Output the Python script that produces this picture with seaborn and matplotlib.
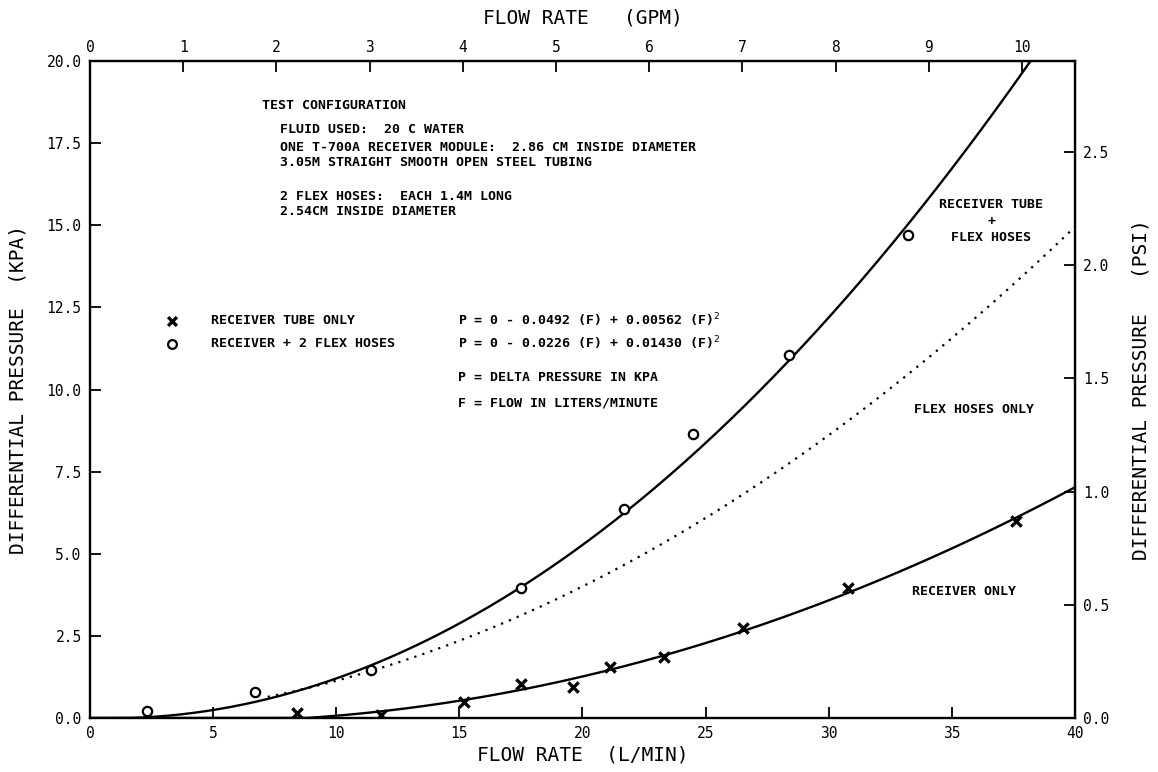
import numpy as np
import pandas as pd
import matplotlib
matplotlib.use("Agg")
import matplotlib.pyplot as plt
import seaborn as sns

# ---- data ----
tube_flow = [8.4, 11.8, 15.2, 17.5, 19.6, 21.1, 23.3, 26.5, 30.8, 37.6]
tube_dp = [0.15, 0.10, 0.50, 1.05, 0.95, 1.55, 1.85, 2.75, 3.95, 6.00]
hose_flow = [2.3, 6.7, 11.4, 17.5, 21.7, 24.5, 28.4, 33.2]
hose_dp = [0.20, 0.80, 1.45, 3.95, 6.35, 8.65, 11.05, 14.70]
# fitted coefficients P = a + b*F + c*F^2
tube_coef = [0.0, -0.0492, 0.00562]
hose_coef = [0.0, -0.0226, 0.01430]
flex_start = 7.2

KPA_PER_PSI = 6.895
LPM_PER_GPM = 3.785
x_ticks = [0, 5, 10, 15, 20, 25, 30, 35, 40]
y_ticks = [0.0, 2.5, 5.0, 7.5, 10.0, 12.5, 15.0, 17.5, 20.0]
gpm_ticks = list(range(0, 11))
psi_ticks = [0.0, 0.5, 1.0, 1.5, 2.0, 2.5]

sns.set_style("ticks", {"axes.edgecolor": "black", "text.color": "black",
                        "xtick.color": "black", "ytick.color": "black",
                        "axes.labelcolor": "black"})
plt.rcParams["font.family"] = ["DejaVu Sans Mono", "DejaVu Sans"]

fig = plt.figure(figsize=(11.58, 7.72), dpi=100)
ax = fig.add_axes([0.0777, 0.0699, 0.8506, 0.8511])

def poly(c, f):
    return c[0] + c[1] * f + c[2] * f ** 2

F = np.linspace(0, 40, 400)
p_tube = poly(tube_coef, F)
p_hose = poly(hose_coef, F)
p_flex = p_hose - p_tube

d_tube = pd.DataFrame({"F": F, "P": p_tube})
d_tube = d_tube[d_tube.P >= 0]
d_hose = pd.DataFrame({"F": F, "P": p_hose})
d_hose = d_hose[(d_hose.P >= 0) & (d_hose.P <= 20)]
d_flex = pd.DataFrame({"F": F, "P": p_flex})
d_flex = d_flex[d_flex.F >= flex_start]

sns.lineplot(data=d_tube, x="F", y="P", ax=ax, color="black", lw=1.7)
sns.lineplot(data=d_hose, x="F", y="P", ax=ax, color="black", lw=1.7)
sns.lineplot(data=d_flex, x="F", y="P", ax=ax, color="black", lw=1.6,
             linestyle=(0, (1, 2.8)))

sns.scatterplot(x=tube_flow, y=tube_dp, ax=ax, marker="x", s=55,
                color="black", linewidth=2.4, zorder=5)
sns.scatterplot(x=hose_flow, y=hose_dp, ax=ax, marker="o", s=45,
                facecolor="white", edgecolor="black", linewidth=1.6, zorder=5)

ax.set_xlim(0, 40)
ax.set_ylim(0, 20)
ax.set_xticks(x_ticks)
ax.set_xticklabels([str(v) for v in x_ticks])
ax.set_yticks(y_ticks)
ax.set_yticklabels([f"{v:.1f}" for v in y_ticks])
ax.tick_params(direction="in", length=8, width=1.3, labelsize=10.5, pad=6,
               colors="black")
for s in ax.spines.values():
    s.set_linewidth(1.7)
    s.set_color("black")
    s.set_visible(True)

ax.set_xlabel("FLOW RATE  (L/MIN)", fontsize=14, labelpad=3, color="black")
ax.set_ylabel("DIFFERENTIAL PRESSURE  (KPA)", fontsize=14, labelpad=14,
              color="black")

top = ax.secondary_xaxis("top", functions=(lambda x: x / LPM_PER_GPM,
                                           lambda g: g * LPM_PER_GPM))
top.set_xticks(gpm_ticks)
top.set_xticklabels([str(v) for v in gpm_ticks])
top.tick_params(direction="in", length=8, width=1.3, labelsize=10.5, pad=4,
                colors="black")
top.set_xlabel("FLOW RATE   (GPM)", fontsize=14, labelpad=12, color="black")

right = ax.secondary_yaxis("right", functions=(lambda p: p / KPA_PER_PSI,
                                               lambda q: q * KPA_PER_PSI))
right.set_yticks(psi_ticks)
right.set_yticklabels([f"{v:.1f}" for v in psi_ticks])
right.tick_params(direction="in", length=8, width=1.3, labelsize=10.5, pad=6,
                  colors="black")
right.set_ylabel("DIFFERENTIAL PRESSURE   (PSI)", fontsize=14, labelpad=16,
                 color="black")

tk = dict(fontsize=9.5, fontweight="bold", color="black", va="center")
ax.text(7.0, 18.66, "TEST CONFIGURATION", **tk)
ax.text(7.7, 17.9, "FLUID USED:  20 C WATER", **tk)
ax.text(7.7, 17.38, "ONE T-700A RECEIVER MODULE:  2.86 CM INSIDE DIAMETER", **tk)
ax.text(7.7, 16.92, "3.05M STRAIGHT SMOOTH OPEN STEEL TUBING", **tk)
ax.text(7.7, 15.88, "2 FLEX HOSES:  EACH 1.4M LONG", **tk)
ax.text(7.7, 15.42, "2.54CM INSIDE DIAMETER", **tk)

ax.scatter([3.33], [12.1], marker="x", s=40, color="black", linewidth=2.4)
ax.scatter([3.33], [11.4], marker="o", s=40, facecolor="white",
           edgecolor="black", linewidth=1.6)
ax.text(4.9, 12.1, "RECEIVER TUBE ONLY", **tk)
ax.text(4.9, 11.4, "RECEIVER + 2 FLEX HOSES", **tk)
ax.text(14.95, 12.1, r"P = 0 - 0.0492 (F) + 0.00562 (F)$^2$", **tk)
ax.text(14.95, 11.4, r"P = 0 - 0.0226 (F) + 0.01430 (F)$^2$", **tk)
ax.text(14.95, 10.38, "P = DELTA PRESSURE IN KPA", **tk)
ax.text(14.95, 9.6, "F = FLOW IN LITERS/MINUTE", **tk)

ax.text(36.6, 15.62, "RECEIVER TUBE", ha="center", **tk)
ax.text(36.6, 15.12, "+", ha="center", **tk)
ax.text(36.6, 14.62, "FLEX HOSES", ha="center", **tk)
ax.text(35.9, 9.38, "FLEX HOSES ONLY", ha="center", **tk)
ax.text(35.5, 3.84, "RECEIVER ONLY", ha="center", **tk)

fig.savefig("out.png", dpi=100)
